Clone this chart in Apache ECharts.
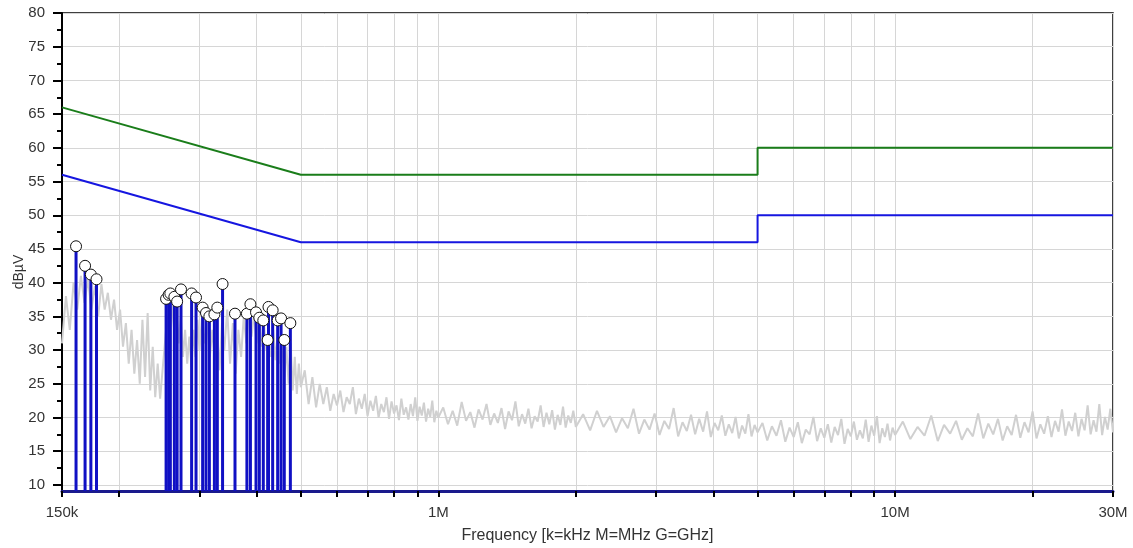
<!DOCTYPE html>
<html><head><meta charset="utf-8">
<script src="https://cdn.jsdelivr.net/npm/echarts@6/dist/echarts.min.js"></script>
<style>html,body{margin:0;padding:0;background:#fff}#c{width:1133px;height:548px}</style>
</head><body><div id="c"></div>
<script>
// ---- axis ticks ----
const yTicks = [10,15,20,25,30,35,40,45,50,55,60,65,70,75,80];
const yMinorTicks = [12.5,17.5,22.5,27.5,32.5,37.5,42.5,47.5,52.5,57.5,62.5,67.5,72.5,77.5];
const xTicksKHz = [150,200,300,400,500,600,700,800,900,1000,2000,3000,4000,5000,6000,7000,8000,9000,10000,20000,30000];
const xLabelKHz = [150,1000,10000,30000];
const xLabelText = ['150k','1M','10M','30M'];

// ---- limit lines ----
const limitQPKHz = [150,500,5000,5000,30000];
const limitQPdB  = [66,56,56,60,60];
const limitAVKHz = [150,500,5000,5000,30000];
const limitAVdB  = [56,46,46,50,50];

// ---- peaks (stems with circles) ----
const peakKHz = [161,168.5,173.5,178.5,253.5,256.8,259,264.3,268,273.3,288.3,294.8,304.8,310,315.3,323.4,328.2,337,358.8,381,387.8,398.9,405.6,413.8,423,424.8,433.8,444.9,452.6,460,474.3];
const peakDb  = [45.4,42.5,41.2,40.5,37.6,38.2,38.4,37.9,37.2,39.0,38.4,37.8,36.3,35.5,35.0,35.3,36.3,39.8,35.4,35.4,36.8,35.6,34.8,34.4,31.5,36.4,35.9,34.4,34.7,31.5,34.0];

// ---- measured trace (grey) ----
const traceKHz = [
150,153,156,159,162,165,168,171,174,177,180,183,186,189,192,195,198,201,204,207,210,213,216,219,222,225,228,231,234,237,240,243,246,249,
252,255,258,261,264,267,270,273,276,279,282,285,288,291,294,297,300,
304,308,312,316,320,324,328,332,336,340,
345,350,355,360,365,370,375,380,385,390,395,400,405,410,415,420,425,430,435,440,445,450,455,460,465,470,475,480,485,490,495,500,
510,520,530,540,550,560,570,580,590,600,610,620,630,640,650,660,670,680,690,700,710,720,730,740,750,760,770,780,790,800,810,820,830,840,850,860,870,880,890,900,910,920,930,940,950,960,970,980,990,1000,
1025,1050,1075,1100,1125,1150,1175,1200,1225,1250,1275,1300,1325,1350,1375,1400,1425,1450,1475,1500,1525,1550,1575,1600,1625,1650,1675,1700,1725,1750,1775,1800,1825,1850,1875,1900,1925,1950,1975,2000,
2075,2150,2225,2300,2375,2450,2525,2600,2675,2750,2825,2900,2975,3050,3125,3200,3275,3350,3425,3500,3575,3650,3725,3800,3875,3950,4025,4100,4175,4250,4325,4400,4475,4550,4625,4700,4775,4850,4925,5000,
5125,5250,5375,5500,5625,5750,5875,6000,6125,6250,6375,6500,6625,6750,6875,7000,7125,7250,7375,7500,7625,7750,7875,8000,8125,8250,8375,8500,8625,8750,8875,9000,9125,9250,9375,9500,9625,9750,9875,10000,
10400,10800,11200,11600,12000,12400,12800,13200,13600,14000,14400,14800,15200,15600,16000,16400,16800,17200,17600,18000,18400,18800,19200,19600,20000,20400,20800,21200,21600,22000,22400,22800,23200,23600,24000,24400,24800,25200,25600,26000,26400,26800,27200,27600,28000,28400,28800,29200,29600,30000
];
const traceDb = [
31,38,33,40,36,41,37,40.5,36,39.5,35,39.8,36,38.5,34.5,37.5,33,36,30.5,34,28,33,26.5,31.5,25,34.5,26,35.5,24,30.5,23,28,22.8,27,
31,35,32,37,33,36,31,35,29,33,28,32,27.5,33,29,34.5,30,
35,31,34,29,33,28.5,32.5,27,34,30,
36,28,34,26.5,33,29,35,31,36,32,35.5,31,35,30.5,34,30,33.5,29,33,28.5,32.5,28,31.5,26,30.5,25,31,24,29,23.5,28,24.5,
27,22,26,21.5,25,22,24.5,21,23.5,21.8,24,20.8,23,22,24.5,20.5,22.8,21.3,23.5,20.2,22.5,21,23.2,20,22,20.8,23,19.8,22.4,20.6,21.8,19.6,22.8,20.4,21.5,19.7,22,20.2,23,19.5,21.6,20.3,22.2,19.4,21.3,20.1,22.5,19.3,21,20,
21.5,19,21,18.8,22.3,19.5,20.8,18.5,21.2,19.7,22,18.9,20.6,19.2,21.4,18.3,20.9,19.6,22.4,18.7,20.5,19.1,21.3,18.4,20.2,19.4,21.8,18.6,20.7,19,21.1,18.2,20.4,18.9,21.6,18.5,20.3,19.2,21,18.6,
20.5,18.1,21,18.6,20.2,17.8,19.9,18.4,21.3,17.6,19.7,18.2,20.6,17.4,19.5,18.3,21.4,17.2,19.3,18,20.4,17.5,19.8,17.9,20.9,17.1,19.2,18.1,20.3,17.3,19,17.7,20.1,16.9,18.8,17.6,20.5,17.2,18.9,17.8,
19.2,16.6,18.7,17.3,19.6,16.4,18.5,17.1,19.3,16.2,18.2,17.5,20.1,16.5,18.4,17,19,16.3,18.6,17.4,19.8,16.1,18.3,17.2,19.4,16.7,18.1,16.9,19.7,16.4,18.8,17.3,20.2,16.2,18.4,17.1,19.1,16.6,18.5,17.4,
19.4,16.8,18.6,17.3,20.3,16.5,18.9,17.6,19.5,16.7,18.4,17.2,20.6,16.9,19.1,17.5,19.8,16.6,18.7,17.4,20.4,17,19.3,17.8,20.9,16.9,19,17.6,20.2,17.1,19.5,17.9,21.2,17.3,19.4,18,20.7,17.2,19.8,18.1,21.8,17.5,19.6,17.9,22,17.4,20.1,18.2,21.3,17.8
];

const Y_MIN = 9.1, Y_MAX = 80;
const FONT = 'Liberation Sans';

const zip = (a, b) => a.map((v, i) => [v, b[i]]);

const chart = echarts.init(document.getElementById('c'), null, {renderer: 'canvas'});
chart.setOption({
  animation: false,
  backgroundColor: '#fff',
  textStyle: {fontFamily: FONT},
  grid: {left: 62, right: 20, top: 13, bottom: 57, containLabel: false, outerBoundsMode: 'none',
    show: true, borderColor: '#000', borderWidth: 1.5, backgroundColor: 'transparent'},
  xAxis: {
    type: 'log', logBase: 10, min: 150, max: 30000,
    name: 'Frequency [k=kHz M=MHz G=GHz]', nameLocation: 'middle', nameGap: 37, nameMoveOverlap: false,
    nameTextStyle: {fontSize: 16, color: '#333', fontFamily: FONT},
    axisLine: {show: true, lineStyle: {color: '#1a1a8c', width: 3}},
    axisTick: {show: true, customValues: xTicksKHz, length: 6, lineStyle: {color: '#000', width: 2}},
    axisLabel: {customValues: xLabelKHz, margin: 14, fontSize: 15, color: '#333', fontFamily: FONT,
      formatter: v => { const i = xLabelKHz.findIndex(k => Math.abs(k - v) / k < 1e-4); return i >= 0 ? xLabelText[i] : ''; }},
    splitLine: {show: true, lineStyle: {color: '#d6d6d6', width: 1}},
    minorTick: {show: false}, minorSplitLine: {show: false}
  },
  yAxis: [{
    type: 'value', min: Y_MIN, max: Y_MAX, position: 'left',
    name: 'dBµV', nameLocation: 'middle', nameGap: 36, nameRotate: 90, nameMoveOverlap: false,
    nameTextStyle: {fontSize: 14, color: '#333', fontFamily: FONT, padding: [0, 40, 0, 0]},
    axisLine: {show: true, lineStyle: {color: '#000', width: 2}},
    axisTick: {show: true, customValues: yTicks, length: 9, lineStyle: {color: '#000', width: 2}},
    axisLabel: {customValues: yTicks, margin: 17, fontSize: 15, color: '#333', fontFamily: FONT},
    splitLine: {show: true, lineStyle: {color: '#d6d6d6', width: 1}}
  }, {
    type: 'value', min: Y_MIN, max: Y_MAX, position: 'left', offset: 0,
    axisLine: {show: false},
    axisTick: {show: true, customValues: yMinorTicks, length: 5, lineStyle: {color: '#000', width: 2}},
    axisLabel: {show: false},
    splitLine: {show: false}
  }],
  series: [
    {type: 'line', data: zip(traceKHz, traceDb), showSymbol: false, symbol: 'none',
      lineStyle: {color: '#d0d0d0', width: 2}, z: 1, silent: true},
    {type: 'line', data: zip(limitQPKHz, limitQPdB), showSymbol: false, symbol: 'none',
      lineStyle: {color: '#1a7d1a', width: 2}, z: 3},
    {type: 'line', data: zip(limitAVKHz, limitAVdB), showSymbol: false, symbol: 'none',
      lineStyle: {color: '#1616e0', width: 2}, z: 3},
    {type: 'custom', data: zip(peakKHz, peakDb), z: 4, clip: true,
      renderItem: (params, api) => {
        const f = api.value(0), v = api.value(1);
        const top = api.coord([f, v]);
        const bot = api.coord([f, Y_MIN]);
        return {type: 'line', shape: {x1: top[0], y1: top[1], x2: bot[0], y2: bot[1]},
          style: {stroke: '#1010c4', lineWidth: 3}};
      }},
    {type: 'scatter', data: zip(peakKHz, peakDb), symbol: 'circle', symbolSize: 11, z: 5,
      itemStyle: {color: '#fff', borderColor: '#111', borderWidth: 1, opacity: 1}}
  ]
});
</script>
</body></html>
